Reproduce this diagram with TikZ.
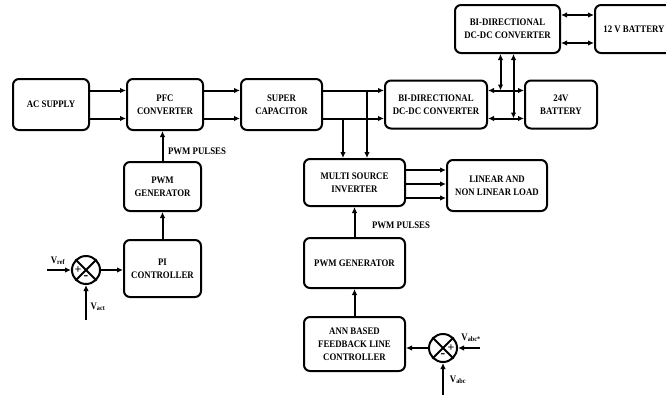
\documentclass[tikz,border=0pt]{standalone}
\usepackage{fontspec}
\setmainfont{Liberation Serif}
\newfontfamily\narrowface[FakeStretch=0.88]{Liberation Serif}
\usetikzlibrary{arrows.meta}

\newcommand{\blkfont}{\narrowface\bfseries\fontsize{10}{13}\selectfont}

\tikzset{
  blk/.style={draw,line width=2pt,rounded corners=6pt,align=center,
    font=\blkfont,inner sep=1pt},
  sum/.style={circle,draw,line width=2pt,minimum size=28pt,inner sep=0pt},
  arr/.style={line width=2pt,-{Latex[length=6pt,width=5.5pt]}},
  dbl/.style={line width=2pt,
    {Latex[length=6pt,width=5.5pt]}-{Latex[length=6pt,width=5.5pt]}},
  lbl/.style={font=\blkfont,inner sep=0pt}
}

\begin{document}
\begin{tikzpicture}[x=1pt,y=-1pt]

        \useasboundingbox (0,0) rectangle (666,394);
        \clip (0,0) rectangle (666,394);

        \begin{scope}[every node/.style={blk}]
          \node[minimum width=76pt,minimum height=51pt] (ac)    at (51,104.5)    {AC SUPPLY};
          \node[minimum width=76pt,minimum height=51pt] (pfc)   at (165,104.5)   {PFC\\CONVERTER};
          \node[minimum width=81pt,minimum height=51pt] (sc)    at (281.5,104.5) {SUPER\\CAPACITOR};
          \node[minimum width=102pt,minimum height=48pt] (bdc)  at (436,104.5)   {BI-DIRECTIONAL\\DC-DC CONVERTER};
          \node[minimum width=72pt,minimum height=48pt] (bat24) at (561,104.5)   {24V\\BATTERY};
          \node[minimum width=105pt,minimum height=48pt] (bdcup) at (507.5,29)   {BI-DIRECTIONAL\\DC-DC CONVERTER};
          \node[minimum width=78pt,minimum height=48pt] (bat12) at (634,29)      {12 V BATTERY};
          \node[minimum width=77pt,minimum height=49pt] (pwmL)  at (162.5,186.5) {PWM\\GENERATOR};
          \node[minimum width=77pt,minimum height=57pt] (pi)    at (162.5,268.5) {PI\\CONTROLLER};
          \node[minimum width=101pt,minimum height=47pt] (msi)  at (354.5,182.5) {MULTI SOURCE\\INVERTER};
          \node[minimum width=100pt,minimum height=51pt] (load) at (497,185.5)   {LINEAR AND\\NON LINEAR LOAD};
          \node[minimum width=101pt,minimum height=50pt] (pwmR) at (354.5,263)   {PWM GENERATOR};
          \node[minimum width=101pt,minimum height=54pt] (ann)  at (354.5,344)   {ANN BASED\\FEEDBACK LINE\\CONTROLLER};
        \end{scope}

        % summing points
        \node[sum] (sumL) at (86,270) {};
        \node[sum] (sumR) at (443,348) {};
        \draw[line width=1.8pt] (sumL.north west) -- (sumL.south east)
                                (sumL.north east) -- (sumL.south west);
        \draw[line width=1.8pt] (sumR.north west) -- (sumR.south east)
                                (sumR.north east) -- (sumR.south west);
        \node[lbl,font=\bfseries\fontsize{12}{12}\selectfont] at ([xshift=7pt]sumL.west)  {+};
        \node[lbl,font=\bfseries\fontsize{14}{14}\selectfont] at ([yshift=7pt]sumL.south) {-};
        \node[lbl,font=\bfseries\fontsize{12}{12}\selectfont] at ([xshift=-7pt]sumR.east) {+};
        \node[lbl,font=\bfseries\fontsize{14}{14}\selectfont] at ([yshift=7pt]sumR.south) {-};

        % free ends
        \coordinate (vref)  at (47,270);
        \coordinate (vact)  at (86,320);
        \coordinate (vabcs) at (480,348);
        \coordinate (vabc)  at (443,400);
        \coordinate (t1) at (500.5,90.5);
        \coordinate (t2) at (513.5,118.5);
        \coordinate (d1) at (343,118.5);
        \coordinate (d2) at (367,90.5);

        % power path
        \draw[arr] ([yshift=14pt]ac.east)  -- ([yshift=14pt]pfc.west);
        \draw[arr] ([yshift=-14pt]ac.east) -- ([yshift=-14pt]pfc.west);
        \draw[arr] ([yshift=14pt]pfc.east)  -- ([yshift=14pt]sc.west);
        \draw[arr] ([yshift=-14pt]pfc.east) -- ([yshift=-14pt]sc.west);
        \draw[arr] ([yshift=14pt]sc.east)  -- ([yshift=14pt]bdc.west);
        \draw[arr] ([yshift=-14pt]sc.east) -- ([yshift=-14pt]bdc.west);
        \draw[dbl] ([yshift=14pt]bdc.east)  -- ([yshift=14pt]bat24.west);
        \draw[dbl] ([yshift=-14pt]bdc.east) -- ([yshift=-14pt]bat24.west);
        \draw[dbl] ([yshift=14pt]bdcup.east)  -- ([yshift=14pt]bat12.west);
        \draw[dbl] ([yshift=-14pt]bdcup.east) -- ([yshift=-14pt]bat12.west);
        \draw[dbl] (bdcup.south -| t1) -- (t1);
        \draw[dbl] (bdcup.south -| t2) -- (t2);
        \draw[arr] (d1) -- (d1 |- msi.north);
        \draw[arr] (d2) -- (d2 |- msi.north);
        \draw[arr] (msi.east |- 0,170) -- (load.west |- 0,170);
        \draw[arr] (msi.east |- 0,184) -- (load.west |- 0,184);
        \draw[arr] (msi.east |- 0,198) -- (load.west |- 0,198);

        % control, left
        \draw[arr] (pwmL.north) -- (pwmL.north |- pfc.south);
        \path (pi) edge[arr] (pwmL);
        \draw[arr] (sumL.east) -- (sumL.east -| pi.west);
        \draw[arr] (vref) -- (sumL.west);
        \draw[arr] (vact) -- (sumL.south);

        % control, right
        \path (pwmR) edge[arr] (msi);
        \path (ann) edge[arr] (pwmR);
        \draw[arr] (sumR.west) -- (sumR.west -| ann.east);
        \draw[arr] (vabcs) -- (sumR.east);
        \draw[arr] (vabc) -- (sumR.south);

        % labels
        \node[lbl] (pp1) at (197,151)   {PWM PULSES};
        \node[lbl] (pp2) at (401,225)   {PWM PULSES};
        \node[lbl] (lref) at (58,261)   {V\textsubscript{ref}};
        \node[lbl] (lact) at (98,307)   {V\textsubscript{act}};
        \node[lbl] (lsr)  at (471,338)  {V\textsubscript{abc*}};
        \node[lbl] (lsv)  at (458,380)  {V\textsubscript{abc}};

      \end{tikzpicture}
\end{document}
